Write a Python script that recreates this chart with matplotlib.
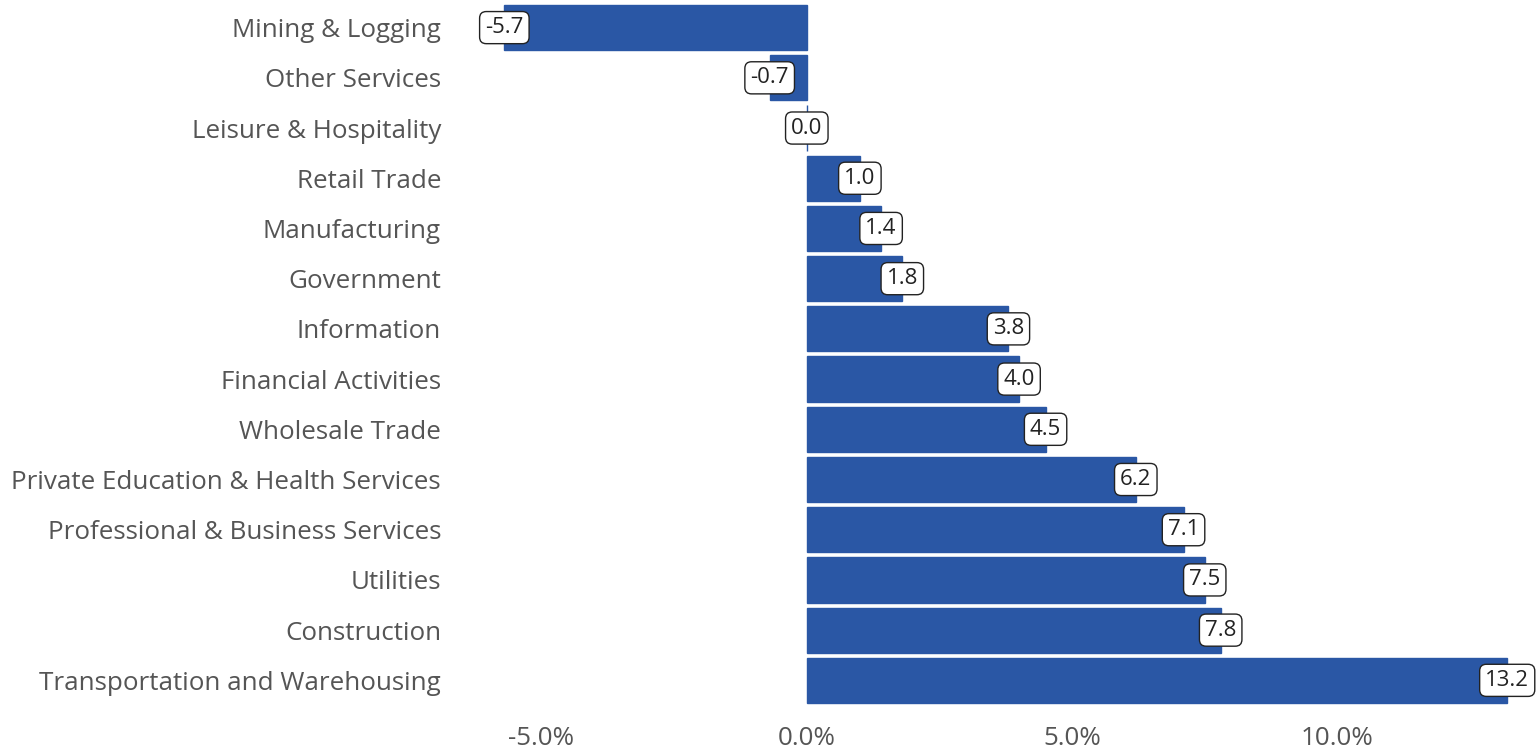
import matplotlib.pyplot as plt
import numpy as np

industries = ["Mining & Logging", "Other Services", "Leisure & Hospitality",
              "Retail Trade", "Manufacturing", "Government", "Information",
              "Financial Activities", "Wholesale Trade",
              "Private Education & Health Services",
              "Professional & Business Services", "Utilities", "Construction",
              "Transportation and Warehousing"]
change = [-5.7, -0.7, 0.0, 1.0, 1.4, 1.8, 3.8, 4.0, 4.5, 6.2, 7.1, 7.5, 7.8, 13.2]
xticks = [-5, 0, 5, 10]

plt.rcParams['font.family'] = ['Open Sans', 'Noto Sans', 'DejaVu Sans']

W, H = 1538, 750
fig = plt.figure(figsize=(W / 100, H / 100), dpi=100)
ax = fig.add_axes([455 / W, 30 / H, (W - 455) / W, 720 / H])

ypos = np.arange(len(industries))
ax.barh(ypos, change, height=0.9, color="#2A57A5", edgecolor="#2A57A5", linewidth=1)

for y, v in zip(ypos, change):
    ax.text(v, y, f"{v:.1f}", ha="center", va="center", fontsize=16, color="#222222",
            bbox=dict(boxstyle="round,pad=0.25,rounding_size=0.3", fc="white", ec="#222222", lw=1))

ax.set_xlim(-6.63, 13.78)
ax.set_ylim(13.79, -0.55)
ax.set_yticks(ypos)
ax.set_yticklabels(industries)
ax.set_xticks(xticks)
ax.set_xticklabels([f"{t:.1f}%" for t in xticks])
ax.tick_params(axis="y", length=0, pad=10, labelsize=18.7, labelcolor="#555555")
ax.tick_params(axis="x", length=0, pad=4, labelsize=18.7, labelcolor="#555555")
for s in ax.spines.values():
    s.set_visible(False)

fig.savefig("out.png", dpi=100)
